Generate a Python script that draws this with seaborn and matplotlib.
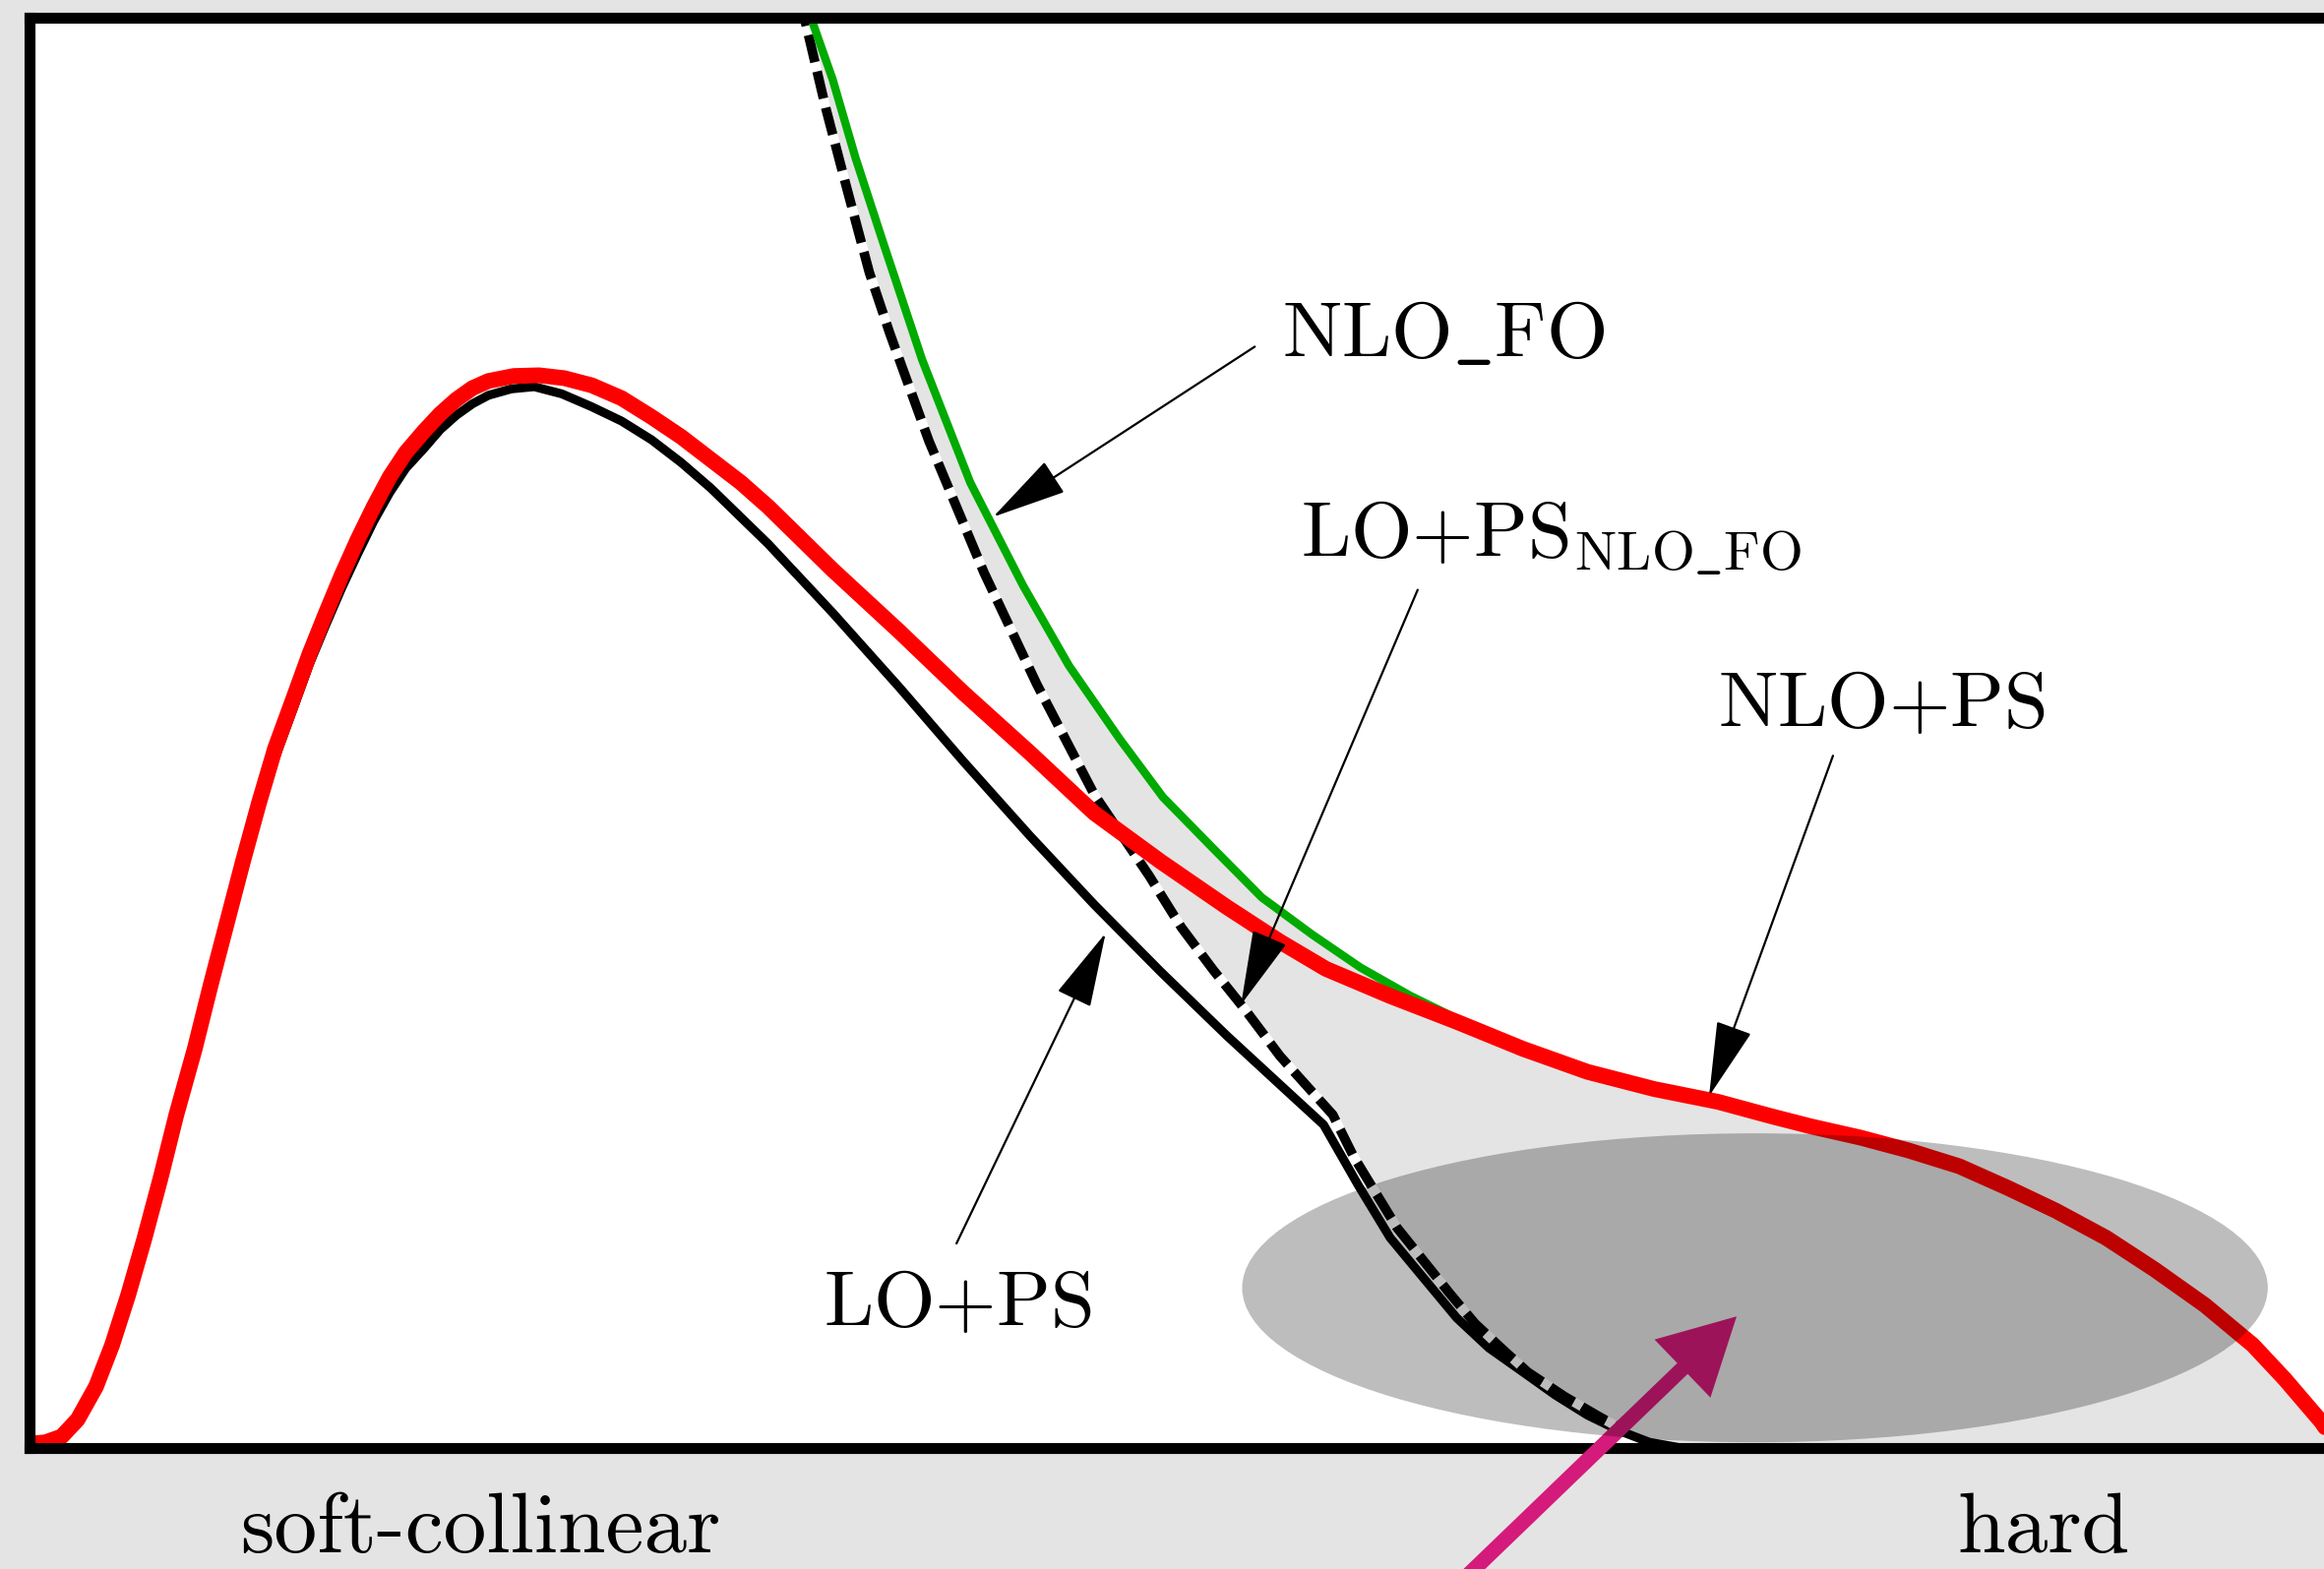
import matplotlib
matplotlib.use("Agg")
import matplotlib.pyplot as plt
from matplotlib.patches import Ellipse, FancyArrowPatch
import numpy as np
import pandas as pd
import seaborn as sns

# Schematic transverse-momentum spectrum; x: 0-100 across the frame, y: 0-100 bottom to top

# NLO+PS (red)
nlo_ps_x = [0.0, 0.7, 1.4, 2.1, 2.9, 3.6, 4.3, 5.0, 5.7, 6.4, 7.2, 7.9, 8.6, 9.3, 10.0, 10.7,
            11.5, 12.2, 12.9, 13.6, 14.3, 15.0, 15.7, 16.4, 17.2, 17.9, 18.6, 19.3, 20.0, 21.1,
            22.2, 23.3, 24.5, 25.8, 27.1, 28.4, 29.7, 31.0, 32.2, 33.6, 35.0, 37.9, 40.7, 43.6,
            46.4, 49.3, 52.2, 54.5, 56.5, 59.3, 62.2, 65.1, 67.9, 70.8, 73.6, 75.9, 77.6, 79.8,
            81.9, 84.1, 86.2, 88.3, 90.5, 92.6, 94.8, 96.9, 98.3, 99.9, 100.6]
nlo_ps_y = [0.3, 0.4, 0.8, 2.0, 4.3, 7.2, 10.7, 14.6, 18.8, 23.3, 27.9, 32.4, 36.7, 41.0, 45.1, 48.9,
            52.4, 55.5, 58.3, 61.0, 63.5, 65.8, 67.9, 69.6, 71.1, 72.3, 73.3, 74.1, 74.6, 74.95,
            75.0, 74.8, 74.3, 73.4, 72.1, 70.7, 69.1, 67.5, 65.8, 63.6, 61.4, 57.1, 52.8, 48.6,
            44.4, 41.0, 37.8, 35.4, 33.5, 31.6, 29.8, 27.9, 26.3, 25.1, 24.2, 23.2, 22.5, 21.7,
            20.8, 19.7, 18.2, 16.6, 14.7, 12.5, 10.0, 7.2, 4.8, 1.8, 0.1]

# LO+PS (black, solid)
lo_ps_x = [0.0, 0.7, 1.4, 2.1, 2.9, 3.6, 4.3, 5.0, 5.7, 6.4, 7.2, 7.9, 8.6, 9.3, 10.0, 10.7,
           11.5, 12.2, 12.9, 13.6, 14.3, 15.0, 15.7, 16.4, 17.2, 17.9, 18.6, 19.3, 20.0, 21.0,
           22.0, 23.2, 24.5, 25.8, 27.1, 28.4, 29.7, 32.2, 35.0, 37.9, 40.7, 43.6, 46.4, 49.3,
           52.2, 54.5, 56.4, 57.9, 59.3, 60.8, 62.2, 63.6, 65.1, 66.5, 67.9, 69.3, 70.6, 72.0,
           101.0]
lo_ps_y = [0.1, 0.3, 0.6, 1.7, 3.9, 6.8, 10.3, 14.1, 18.3, 22.8, 27.4, 31.9, 36.1, 40.4, 44.4, 48.2,
           51.7, 54.8, 57.5, 60.1, 62.5, 64.8, 66.8, 68.5, 69.9, 71.2, 72.2, 73.0, 73.6, 74.05,
           74.2, 73.7, 72.8, 71.8, 70.5, 68.9, 67.1, 63.2, 58.4, 53.2, 48.0, 42.8, 38.0, 33.3,
           28.8, 25.4, 22.6, 18.4, 14.7, 11.8, 9.1, 7.0, 5.3, 3.7, 2.3, 1.2, 0.4, 0.0,
           0.0]

# LO+PS matched to NLO_FO (black, dashed)
lo_ps_fo_x = [33.5, 33.8, 34.7, 35.6, 36.6, 37.5, 39.2, 41.6, 43.9, 46.4, 48.8, 50.2, 51.6, 53.0,
              54.5, 55.9, 56.8, 57.7, 58.8, 59.6, 60.8, 61.9, 63.0, 64.2, 65.3, 66.9, 68.4, 69.3]
lo_ps_fo_y = [101.6, 99.8, 93.7, 88.2, 82.2, 77.9, 70.4, 61.2, 53.4, 45.7, 40.0, 36.4, 33.4, 30.6,
              27.4, 24.9, 23.3, 20.4, 17.5, 15.4, 13.0, 10.8, 8.7, 6.9, 5.3, 3.6, 2.2, 1.4]

# NLO fixed order (green)
nlo_fo_x = [33.7, 34.1, 35.0, 36.0, 37.2, 38.9, 41.0, 43.3, 45.3, 47.5, 49.4, 51.6, 53.7, 55.9,
            58.0, 60.2, 63.0]
nlo_fo_y = [101.4, 99.8, 95.7, 90.2, 84.3, 76.1, 67.5, 60.3, 54.7, 49.6, 45.5, 41.9, 38.5, 35.9,
            33.6, 31.6, 29.4]

# Hard-emission region (ellipse): centre, width, height
hard_region = (75.2, 11.2, 44.7, 21.6)

# Labels: text, text anchor (left, baseline), arrow tail, arrow tip
label_texts = [r"$\mathrm{NLO\_FO}$",
               r"$\mathrm{LO{+}PS}_{\mathrm{NLO\_FO}}$",
               r"$\mathrm{NLO{+}PS}$",
               r"$\mathrm{LO{+}PS}$"]
label_pos = [(54.6, 76.3), (55.4, 62.3), (73.6, 50.4), (34.6, 8.5)]
arrow_tail = [(53.4, 77.0), (60.5, 60.0), (78.6, 48.4), (40.4, 14.3)]
arrow_tip = [(42.0, 65.1), (52.8, 31.0), (73.2, 24.6), (46.9, 36.0)]

region_texts = ["soft-collinear", "hard"]
region_pos = [(9.2, -7.3), (84.0, -7.3)]

# Highlight arrow into the hard region
hl_tail = (62.1, -9.8)
hl_tip = (74.4, 9.2)

sns.set_style("white")
plt.rcParams["mathtext.fontset"] = "cm"
plt.rcParams["axes.formatter.use_mathtext"] = True
plt.rcParams["text.color"] = "black"

W, H = 2362, 1595
fig = plt.figure(figsize=(W / 100, H / 100), dpi=100, facecolor="#e4e4e4")
ax = fig.add_axes([30 / W, 123 / H, (W - 30) / W, 1454 / H])
ax.set_facecolor("white")
ax.set_xlim(0, 100)
ax.set_ylim(0, 100)
ax.set_xticks([])
ax.set_yticks([])
for side in ["left", "top", "bottom"]:
    ax.spines[side].set_linewidth(8.0)
    ax.spines[side].set_color("black")
    ax.spines[side].set_capstyle("projecting")
ax.spines["right"].set_visible(False)

# Shaded band between the matched LO+PS and the NLO curves
fo_end = nlo_fo_x[-1]
band_x = list(nlo_fo_x) + [x for x in nlo_ps_x if x > fo_end] + [101.5]
band_y = list(nlo_fo_y) + [y for x, y in zip(nlo_ps_x, nlo_ps_y) if x > fo_end] + [0.0]
tail = [(x, y) for x, y in zip(lo_ps_x, lo_ps_y) if lo_ps_fo_x[-1] < x <= 72.0][::-1]
band_x += [p[0] for p in tail] + lo_ps_fo_x[::-1]
band_y += [p[1] for p in tail] + lo_ps_fo_y[::-1]
ax.fill(band_x, band_y, color="#e4e4e4", lw=0, zorder=1)

line_kw = dict(ax=ax, estimator=None, sort=False)
curves = pd.DataFrame({"x": lo_ps_x, "y": lo_ps_y})
l_lo = sns.lineplot(data=curves, x="x", y="y", color="black", zorder=2, **line_kw).lines[-1]
l_fo = sns.lineplot(x=lo_ps_fo_x, y=lo_ps_fo_y, color="black", zorder=2.1,
                    **line_kw).lines[-1]
l_fo.set_linestyle((0, (2.9, 1.0)))
l_fo.set_gapcolor("white")
l_nfo = sns.lineplot(x=nlo_fo_x, y=nlo_fo_y, color="#00aa00", zorder=2.2,
                     **line_kw).lines[-1]
l_nps = sns.lineplot(x=nlo_ps_x, y=nlo_ps_y, color="#ff0000", zorder=2.3,
                     **line_kw).lines[-1]
for ln, w in [(l_lo, 6.5), (l_fo, 7.0), (l_nfo, 6.0), (l_nps, 11.5)]:
    ln.set_linewidth(w)
    ln.set_solid_joinstyle("round")
    ln.set_dash_joinstyle("round")

ax.add_patch(FancyArrowPatch(posA=hl_tail, posB=hl_tip,
                             arrowstyle="simple,head_length=5.5,head_width=5.9,tail_width=1.1",
                             mutation_scale=10, color="#d41a7a", lw=0, zorder=3,
                             clip_on=False, shrinkA=0, shrinkB=0))

cx, cy, ew, eh = hard_region
ax.add_patch(Ellipse((cx, cy), ew, eh, facecolor="black", alpha=0.26, lw=0, zorder=3.5))

for txt, pos, t0, t1 in zip(label_texts, label_pos, arrow_tail, arrow_tip):
    ax.annotate("", xy=t1, xytext=t0,
                arrowprops=dict(arrowstyle="-|>,head_length=4.9,head_width=1.2",
                                mutation_scale=10, lw=1.6, color="black",
                                shrinkA=0, shrinkB=0),
                zorder=4)
    ax.text(pos[0], pos[1], txt, fontsize=58, color="black", ha="left", va="baseline",
            zorder=5)

for txt, pos in zip(region_texts, region_pos):
    ax.text(pos[0], pos[1], txt, fontsize=63, family="cmr10", color="black",
            ha="left", va="baseline", clip_on=False, zorder=5)

ax.set_xlabel("")
ax.set_ylabel("")
fig.savefig("out.png", dpi=100, facecolor=fig.get_facecolor())
